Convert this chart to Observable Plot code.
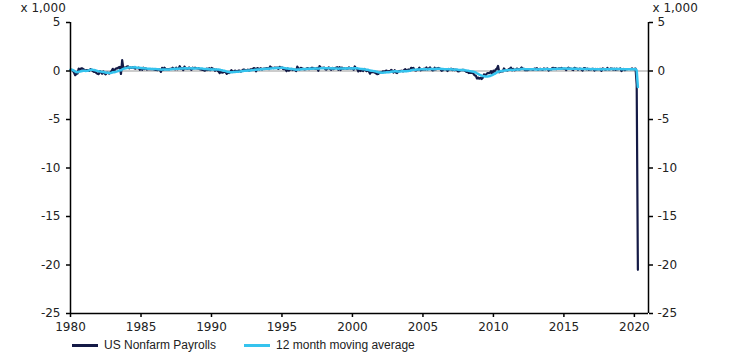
<!DOCTYPE html>
<html>
<head>
<meta charset="utf-8">
<script src="https://cdn.jsdelivr.net/npm/d3@7"></script>
<script src="https://cdn.jsdelivr.net/npm/@observablehq/plot@0.6"></script>
<style>
  html, body { margin: 0; padding: 0; background: #fff; }
  #wrap { width: 738px; height: 358px; position: relative; overflow: hidden; }
  #legend { position: absolute; left: 72px; top: 338px; display: flex; align-items: center; font-family: "Liberation Sans", Arial, sans-serif; font-size: 12px; color: #222; }
  .sw { width: 26px; height: 3px; margin-right: 6px; }
  .item { display: flex; align-items: center; margin-right: 28px; }
</style>
</head>
<body>
<div id="wrap">
  <div id="chart"></div>
  <div id="legend"></div>
</div>
<script>
// Monthly change in US nonfarm payrolls, thousands of jobs
const nfp1980s = [
  131, 121, 47, -171, -430, -301, -254, 254, 109, 262, 262, 189,
  100, 67, 105, 67, 11, 195, 107, -9, -99, -98, -208, -275,
  -328, -2, -130, -280, -44, -243, -343, -159, -182, -276, -125, -12,
  225, -78, 173, 276, 277, 378, 418, -308, 1114, 271, 352, 356,
  446, 479, 275, 363, 308, 379, 313, 240, 311, 286, 349, 128,
  266, 124, 346, 195, 274, 146, 189, 193, 203, 187, 209, 166,
  125, 106, 94, 187, 126, -94, 318, 114, 347, 186, 185, 206,
  171, 233, 232, 337, 226, 171, 343, 171, 228, 493, 232, 292,
  90, 459, 276, 245, 218, 363, 222, 124, 339, 270, 339, 292,
  263, 288, 195, 170, 124, 115, 39, 54, 252, 105, 282, 94
];
const nfp1990s = [
  313, 253, 213, 26, 152, 49, -44, -212, -88, -162, -139, -56,
  -116, -303, -145, -209, -108, 87, -50, -35, 37, 3, -71, 48,
  53, -59, 48, 133, 137, 53, 57, 137, 39, 164, 132, 205,
  310, 249, -36, 306, 265, 176, 292, 162, 231, 255, 265, 295,
  273, 205, 468, 353, 314, 304, 347, 301, 355, 214, 435, 301,
  362, 194, 225, 163, -7, 259, 38, 140, 222, 97, 145, 128,
  -14, 447, 295, 152, 321, 273, 218, 173, 187, 248, 302, 183,
  237, 313, 315, 289, 251, 238, 321, 23, 508, 316, 321, 331,
  355, 160, 151, 274, 374, 206, 113, 308, 190, 264, 337, 386,
  124, 406, 94, 356, 223, 270, 305, 237, 230, 379, 254, 292
];
const nfp2000s = [
  250, 125, 471, 284, 223, -45, 164, 2, 121, -9, 214, 105,
  -15, 61, -30, -281, -44, -128, -125, -160, -244, -325, -292, -178,
  -132, -148, -27, -84, -8, 44, -99, -13, -58, 124, 9, -153,
  86, -156, -211, -50, -6, 3, 29, -43, 101, 194, 13, 119,
  159, 43, 333, 249, 310, 81, 46, 122, 160, 351, 64, 132,
  136, 240, 142, 362, 170, 246, 373, 196, 67, 84, 334, 159,
  277, 315, 280, 182, 23, 77, 207, 184, 157, 2, 210, 171,
  238, 93, 190, 80, 143, 75, -34, -20, 88, 84, 114, 98,
  17, -84, -78, -210, -185, -165, -209, -266, -452, -473, -769, -695,
  -791, -703, -823, -686, -351, -470, -329, -212, -219, -200, -7, -279
];
const nfp2010s = [
  28, -69, 163, 232, 522, -133, -70, -34, -52, 262, 119, 87,
  43, 189, 225, 346, 77, 225, 69, 110, 248, 209, 141, 209,
  358, 237, 233, 78, 115, 76, 143, 177, 203, 146, 132, 244,
  211, 286, 130, 197, 226, 162, 122, 261, 190, 212, 258, 47,
  190, 151, 272, 329, 246, 304, 202, 230, 280, 227, 312, 255,
  234, 238, 86, 262, 344, 206, 254, 157, 100, 321, 272, 239,
  126, 237, 225, 153, 43, 297, 291, 176, 249, 124, 164, 155,
  216, 232, 50, 207, 145, 210, 173, 222, 18, 265, 220, 150,
  162, 312, 164, 171, 262, 239, 142, 240, 112, 250, 173, 214,
  269, 1, 147, 210, 85, 182, 194, 207, 208, 185, 261, 184
];
const nfp2020 = [214, 251, -1373, -20500];

const startYear = 1980;
const yTicks = [5, 0, -5, -10, -15, -20, -25];
const xTickYears = [1980, 1985, 1990, 1995, 2000, 2005, 2010, 2015, 2020];
const seriesNames = ["US Nonfarm Payrolls", "12 month moving average"];
const seriesColors = ["#141a46", "#35c3ee"];

const all = [...nfp1980s, ...nfp1990s, ...nfp2000s, ...nfp2010s, ...nfp2020];
const data = all.map((v, i) => ({
  date: new Date(startYear + Math.floor(i / 12), i % 12, 1),
  value: v / 1000
}));

const xStart = new Date(1980, 0, 1);
const xEnd = new Date(2021, 0, 1);
const font = "DejaVu Sans, Verdana, sans-serif";

const chart = Plot.plot({
  width: 738,
  height: 336,
  marginLeft: 70,
  marginRight: 90,
  marginTop: 22,
  marginBottom: 23,
  style: { fontFamily: font, fontSize: "12px", color: "#222", background: "#fff", overflow: "visible" },
  x: { type: "utc", domain: [xStart, xEnd] },
  y: { domain: [-25, 5] },
  marks: [
    Plot.ruleY([0], { stroke: "#999", strokeWidth: 1 }),
    Plot.lineY(data, { x: "date", y: "value", stroke: seriesColors[0], strokeWidth: 2.2 }),
    Plot.lineY(data, Plot.windowY({ k: 12, anchor: "end" }, { x: "date", y: "value", stroke: seriesColors[1], strokeWidth: 2.5 })),
    Plot.ruleY([-25], { stroke: "#000", strokeWidth: 1.5 }),
    Plot.ruleX([xStart, xEnd], { stroke: "#000", strokeWidth: 1.5 }),
    Plot.axisX(xTickYears.map(y => new Date(y, 0, 1)), { tickSize: 4, tickPadding: 5, tickFormat: d => String(d.getFullYear()), label: null, fontSize: 12, stroke: "#000", strokeWidth: 1.5 }),
    Plot.axisY(yTicks, { anchor: "left", tickSize: 4, tickPadding: 6, tickFormat: d => String(d), label: null, fontSize: 12, stroke: "#000", strokeWidth: 1.5 }),
    Plot.axisY(yTicks, { anchor: "right", tickSize: 4, tickPadding: 5, tickFormat: d => String(d), label: null, fontSize: 12, stroke: "#000", strokeWidth: 1.5 }),
    Plot.text(["x 1,000"], { frameAnchor: "top-left", lineAnchor: "middle", dx: -50, dy: -14.5, textAnchor: "start", fontSize: 12 }),
    Plot.text(["x 1,000"], { frameAnchor: "top-right", lineAnchor: "middle", dx: 4, dy: -14.5, textAnchor: "start", fontSize: 12 })
  ]
});
document.getElementById("chart").appendChild(chart);

const legend = document.getElementById("legend");
seriesNames.forEach((name, i) => {
  const item = document.createElement("div");
  item.className = "item";
  const sw = document.createElement("div");
  sw.className = "sw";
  sw.style.background = seriesColors[i];
  const label = document.createElement("span");
  label.textContent = name;
  item.appendChild(sw);
  item.appendChild(label);
  legend.appendChild(item);
});
</script>
</body>
</html>
